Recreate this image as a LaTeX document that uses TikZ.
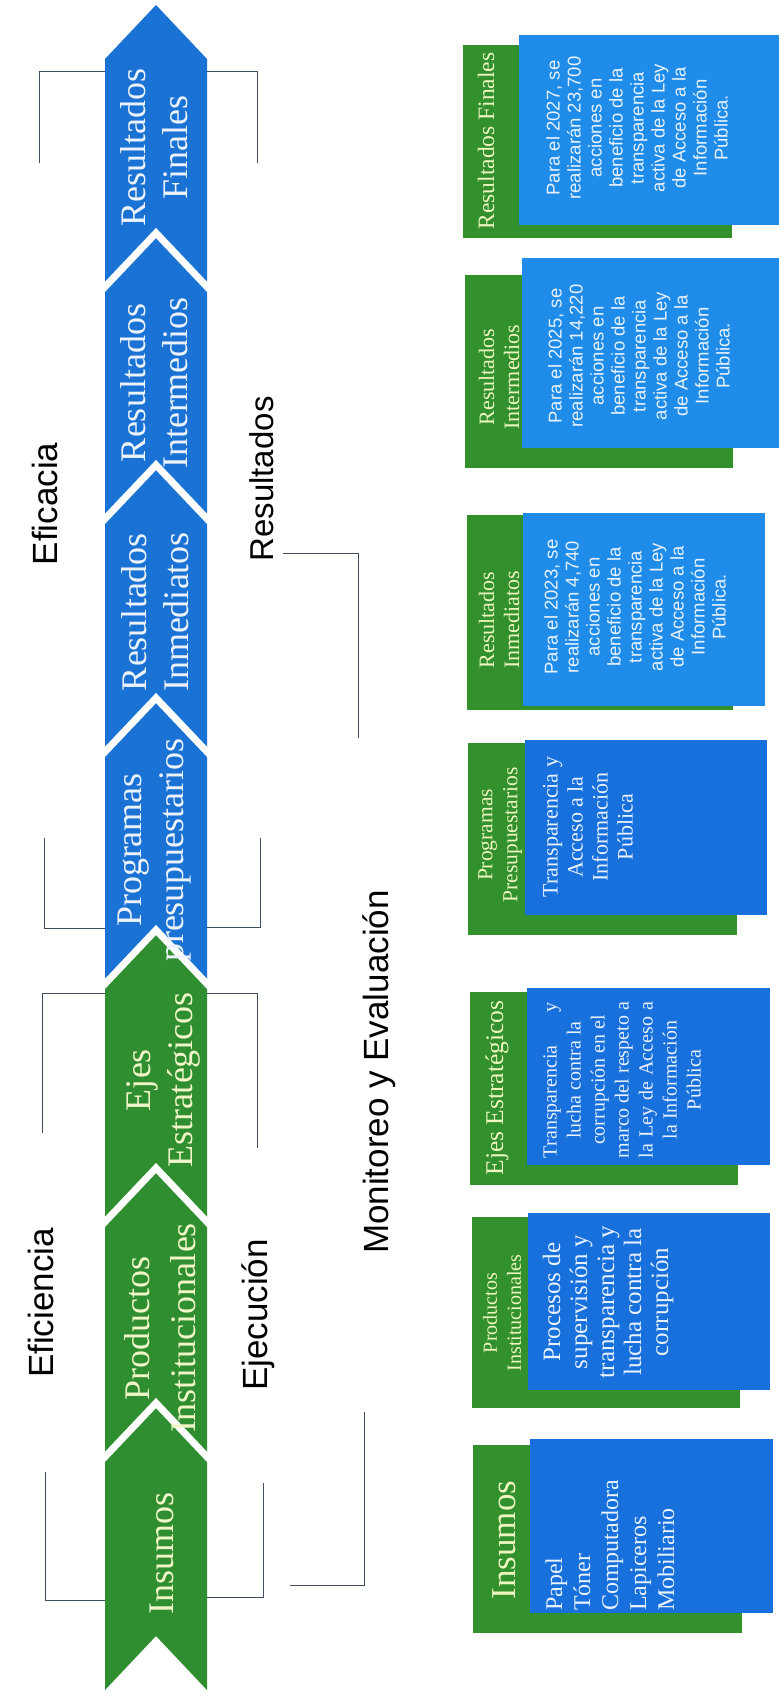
\documentclass[tikz,border=0pt]{standalone}
\usepackage{fontspec}
\setmainfont{Liberation Serif}
\newfontfamily\sansfam{Liberation Sans}
\definecolor{arrowblue}{RGB}{26,115,212}
\definecolor{arrowgreen}{RGB}{47,142,47}
\definecolor{cardgreen}{RGB}{50,145,45}
\definecolor{cardblueA}{RGB}{30,140,232}
\definecolor{cardblueB}{RGB}{24,112,220}
\definecolor{arrowtxt}{RGB}{236,242,252}
\definecolor{greentxt}{RGB}{240,246,200}
\definecolor{titletxt}{RGB}{236,246,190}
\definecolor{cardtxt}{RGB}{232,242,255}
\definecolor{brk}{RGB}{60,78,96}
\tikzset{
  seglbl/.style={rotate=90, align=center, inner sep=0pt, text=arrowtxt, font=\fontsize{36}{42}\selectfont},
  greenlbl/.style={seglbl, text=greentxt},
  sidelbl/.style={rotate=90, anchor=base, inner sep=0pt, font=\sansfam\fontsize{35}{40}\selectfont},
  ttl/.style={rotate=90, align=center, inner sep=0pt, text=titletxt},
  cardsans/.style={rotate=90, align=center, inner sep=0pt, text=cardtxt, font=\sansfam\fontsize{18.5}{21}\selectfont},
  cardserif/.style={rotate=90, inner sep=0pt, text=cardtxt},
  bracket/.style={draw=brk, line width=1pt},
  gapline/.style={draw=white, line width=7pt, line join=miter, line cap=butt},
}
\begin{document}
\begin{tikzpicture}[x=1pt,y=-1pt]
\useasboundingbox (0,0) rectangle (781,1696);
\fill[white] (0,0) rectangle (781,1696);

% brackets
\draw[bracket] (105,72) -- (39,72) -- (39,163);
\draw[bracket] (207,72) -- (257,72) -- (257,163);
\draw[bracket] (44,838) -- (44,928) -- (105,928);
\draw[bracket] (260,838) -- (260,927) -- (207,927);
\draw[bracket] (105,993) -- (42,993) -- (42,1133);
\draw[bracket] (207,993) -- (257,993) -- (257,1148);
\draw[bracket] (45,1472) -- (45,1600) -- (105,1600);
\draw[bracket] (263,1483) -- (263,1597) -- (207,1597);
\draw[bracket] (283,553) -- (358,553) -- (358,738);
\draw[bracket] (364,1412) -- (364,1585) -- (290,1585);

% arrow
\fill[arrowblue] (156,5) -- (207,59) -- (207,984) -- (156,930) -- (105,984) -- (105,59) -- cycle;
\fill[arrowgreen] (156,930) -- (207,984) -- (207,1690) -- (156,1636) -- (105,1690) -- (105,984) -- cycle;
\foreach \a in {233,465,698,930,1168,1403}{
  \draw[gapline] (102,\a+57) -- (156,\a) -- (210,\a+57);
}

% arrow labels
\node[seglbl] (sFin) at (154,148) {Resultados\\Finales};
\node[seglbl] (sInt) at (154,383) {Resultados\\Intermedios};
\node[seglbl] (sInm) at (155,612) {Resultados\\Inmediatos};
\node[seglbl] (sProg) at (155,850) {Programas\\presupuestarios};
\node[greenlbl] (sEjes) at (163,1080) {Ejes\\Estratégicos};
\node[greenlbl, font=\fontsize{36}{46}\selectfont] (sProd) at (160,1328) {Productos\\Institucionales};
\node[greenlbl, anchor=base] (sIns) at (173,1553) {Insumos};

% side labels
\node[sidelbl] (lEficacia) at (57,504) {Eficacia};
\node[sidelbl, font=\sansfam\fontsize{33}{38}\selectfont] (lResult) at (273,479) {Resultados};
\node[sidelbl] (lMon) at (388,1072) {Monitoreo y Evaluación};
\node[sidelbl] (lEficiencia) at (53,1303) {Eficiencia};
\node[sidelbl] (lEjec) at (267,1315) {Ejecución};

% cards
\fill[cardgreen] (463,45) rectangle (732,238);
\fill[cardblueA] (519,35) rectangle (779,225);
\fill[cardgreen] (465,275) rectangle (733,468);
\fill[cardblueA] (522,258) rectangle (779,448);
\fill[cardgreen] (467,515) rectangle (733,710);
\fill[cardblueA] (523,513) rectangle (765,706);
\fill[cardgreen] (468,743) rectangle (737,935);
\fill[cardblueB] (525,740) rectangle (767,915);
\fill[cardgreen] (470,992) rectangle (738,1185);
\fill[cardblueB] (527,988) rectangle (770,1165);
\fill[cardgreen] (472,1217) rectangle (740,1408);
\fill[cardblueB] (528,1213) rectangle (770,1390);
\fill[cardgreen] (473,1445) rectangle (742,1633);
\fill[cardblueB] (530,1439) rectangle (773,1613);

% card titles
\node[ttl, anchor=base, font=\fontsize{23.5}{27}\selectfont] (tFin) at (494,141) {Resultados Finales};
\node[ttl, font=\fontsize{22}{25}\selectfont] (tInt) at (499,377) {Resultados\\Intermedios};
\node[ttl, font=\fontsize{22}{25}\selectfont] (tInm) at (499,620) {Resultados\\Inmediatos};
\node[ttl, font=\fontsize{21.5}{25}\selectfont] (tProg) at (500,835) {Programas\\Presupuestarios};
\node[ttl, anchor=base, font=\fontsize{25.5}{29}\selectfont] (tEjes) at (503,1088) {Ejes Estratégicos};
\node[ttl, font=\fontsize{20}{24}\selectfont] (tProd) at (502,1313) {Productos\\Institucionales};
\node[ttl, anchor=base, font=\fontsize{35}{40}\selectfont] (tIns) at (515,1540) {Insumos};

% card texts
\node[cardsans] (cFin) at (637,128) {Para el 2027, se\\realizarán 23,700\\acciones en\\beneficio de la\\transparencia\\activa de la Ley\\de Acceso a la\\Información\\Pública.};
\node[cardsans] (cInt) at (639,356) {Para el 2025, se\\realizarán 14,220\\acciones en\\beneficio de la\\transparencia\\activa de la Ley\\de Acceso a la\\Información\\Pública.};
\node[cardsans] (cInm) at (635,607) {Para el 2023, se\\realizarán 4,740\\acciones en\\beneficio de la\\transparencia\\activa de la Ley\\de Acceso a la\\Información\\Pública.};
\node[cardserif, align=center, font=\fontsize{22}{25}\selectfont] (cProg) at (588,827) {Transparencia y\\Acceso a la\\Información\\Pública};
\node[cardserif, align=center, font=\fontsize{20}{24}\selectfont] (cEjes) at (622,1080) {\makebox[156pt][s]{Transparencia y}\\lucha contra la\\corrupción en el\\marco del respeto a\\\makebox[156pt][s]{la Ley de Acceso a}\\la Información\\Pública};
\node[cardserif, align=center, font=\fontsize{25}{27}\selectfont] (cProd) at (608,1302) {Procesos de\\supervisión y\\transparencia y\\lucha contra la\\corrupción};
\node[cardserif, align=left, anchor=west, font=\fontsize{24}{28}\selectfont] (cIns) at (610,1611) {Papel\\Tóner\\Computadora\\Lapiceros\\Mobiliario};
\end{tikzpicture}
\end{document}
